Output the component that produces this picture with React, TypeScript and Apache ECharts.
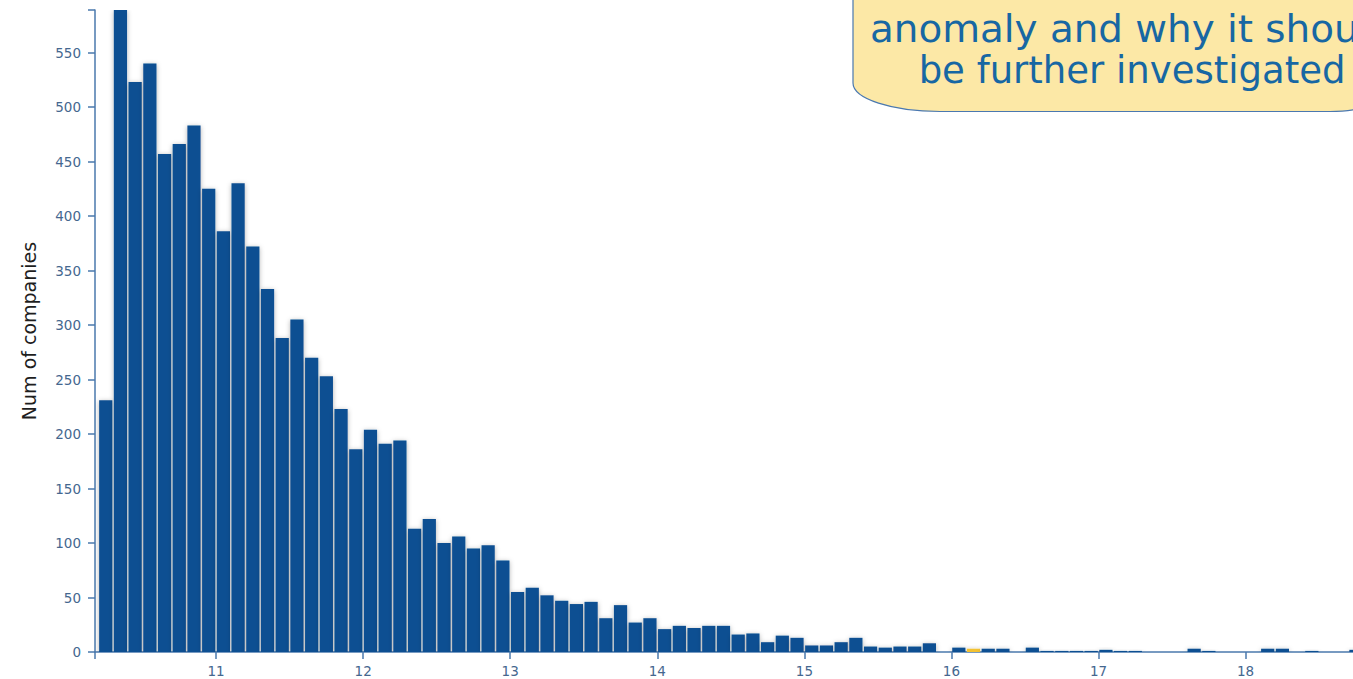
import React, { useEffect, useRef } from "react";
import * as echarts from "echarts";

// Histogram bins: each bin starts at binStarts[i] and is binWidth wide
const binWidth = 0.1;
const binStarts = [
  10.2, 10.3, 10.4, 10.5, 10.6, 10.7, 10.8, 10.9, 11.0, 11.1, 11.2, 11.3, 11.4, 11.5, 11.6, 11.7, 11.8, 11.9,
  12.0, 12.1, 12.2, 12.3, 12.4, 12.5, 12.6, 12.7, 12.8, 12.9, 13.0, 13.1, 13.2, 13.3, 13.4, 13.5, 13.6, 13.7,
  13.8, 13.9, 14.0, 14.1, 14.2, 14.3, 14.4, 14.5, 14.6, 14.7, 14.8, 14.9, 15.0, 15.1, 15.2, 15.3, 15.4, 15.5,
  15.6, 15.7, 15.8, 15.9, 16.0, 16.1, 16.2, 16.3, 16.4, 16.5, 16.6, 16.7, 16.8, 16.9, 17.0, 17.1, 17.2, 17.3,
  17.4, 17.5, 17.6, 17.7, 17.8, 17.9, 18.0, 18.1, 18.2, 18.3, 18.4, 18.5, 18.6, 18.7,
];
const counts = [
  231, 589, 523, 540, 457, 466, 483, 425, 386, 430, 372, 333, 288, 305, 270, 253, 223, 186,
  204, 191, 194, 113, 122, 100, 106, 95, 98, 84, 55, 59, 52, 47, 44, 46, 31, 43,
  27, 31, 21, 24, 22, 24, 24, 16, 17, 9, 15, 13, 6, 6, 9, 13, 5, 4,
  5, 5, 8, 0, 4, 3, 3, 3, 0, 4, 1, 1, 1, 1, 2, 1, 1, 0,
  0, 0, 3, 1, 0, 0, 0, 3, 3, 0, 1, 0, 0, 2,
];
const highlightedBin = 16.1;

const xMin = 10.177;
const xMax = 18.73;
const xTickLabels = [11, 12, 13, 14, 15, 16, 17, 18];
const yMax = 589;
const yTickLabels = [0, 50, 100, 150, 200, 250, 300, 350, 400, 450, 500, 550];

const yAxisTitle = "Num of companies";
const calloutLines = ["anomaly and why it should", "be further investigated"];

const AXIS_COLOR = "#4a78ad";
const LABEL_COLOR = "#45678f";
const BAR_COLOR = "#0d4f92";
const HIGHLIGHT_COLOR = "#f3c232";

const calloutPath =
  "M853,-6 L853,83 A87,28.5 0 0 0 940,111.5 L1330,111.5 A40,9 0 0 0 1370,102 L1370,-6 Z";
echarts.graphic.registerShape("callout", echarts.graphic.extendPath(calloutPath, {}) as any);

export default function App() {
  const ref = useRef<HTMLDivElement>(null);

  useEffect(() => {
    document.body.style.margin = "0";
    document.body.style.overflow = "hidden";
    const chart = echarts.init(ref.current!, undefined, { renderer: "svg" });

    const data = binStarts.map((s, i) => [s, counts[i], Math.abs(s - highlightedBin) < 1e-6 ? 1 : 0]);

    chart.setOption({
      animation: false,
      grid: { left: 95, right: 0, top: 10, bottom: 27, containLabel: false },
      xAxis: {
        type: "value",
        min: xMin,
        max: xMax,
        splitLine: { show: false },
        axisLine: { show: true, lineStyle: { color: AXIS_COLOR, width: 1.5 } },
        axisTick: {
          show: true,
          length: 7,
          customValues: [xMin, ...xTickLabels],
          lineStyle: { color: AXIS_COLOR, width: 1.5 },
        },
        axisLabel: {
          customValues: xTickLabels,
          color: LABEL_COLOR,
          fontSize: 13.5,
          fontFamily: "DejaVu Sans",
          margin: 12,
        },
      },
      yAxis: {
        type: "value",
        min: 0,
        max: yMax,
        splitLine: { show: false },
        axisLine: { show: true, lineStyle: { color: AXIS_COLOR, width: 1.5 } },
        axisTick: {
          show: true,
          length: 7,
          customValues: [...yTickLabels, yMax],
          lineStyle: { color: AXIS_COLOR, width: 1.5 },
        },
        axisLabel: {
          customValues: yTickLabels,
          color: LABEL_COLOR,
          fontSize: 13.5,
          fontFamily: "DejaVu Sans",
          margin: 14,
        },
        name: yAxisTitle,
        nameLocation: "middle",
        nameGap: 57,
        nameTextStyle: { color: "#1e1e1e", fontSize: 19, fontFamily: "DejaVu Sans" },
      },
      series: [
        {
          type: "custom",
          data,
          clip: true,
          renderItem: (params: any, api: any) => {
            const x0 = api.value(0);
            const v = api.value(1);
            const hl = api.value(2);
            if (!v) return null;
            const pTop = api.coord([x0, v]);
            const pBot = api.coord([x0 + binWidth, 0]);
            return {
              type: "rect",
              shape: {
                x: pTop[0] + 0.75,
                y: pTop[1],
                width: pBot[0] - pTop[0] - 1.5,
                height: pBot[1] - pTop[1],
              },
              style: {
                fill: hl ? HIGHLIGHT_COLOR : BAR_COLOR,
                shadowBlur: 5,
                shadowColor: "rgba(0,0,0,0.3)",
                shadowOffsetY: 1,
              },
            };
          },
        },
      ],
      graphic: [
        {
          type: "group",
          children: [
            {
              type: "callout",
              shape: {},
              style: { fill: "#fce8a6", stroke: "#4a78b0", lineWidth: 1.2 },
            },
            {
              type: "text",
              x: 1132,
              y: 29,
              scaleX: 1.05,
              style: {
                text: calloutLines[0],
                fill: "#1767a3",
                fontSize: 37,
                fontFamily: "DejaVu Sans",
                align: "center",
                verticalAlign: "middle",
              },
            },
            {
              type: "text",
              x: 1132,
              y: 70,
              style: {
                text: calloutLines[1],
                fill: "#1767a3",
                fontSize: 37,
                fontFamily: "DejaVu Sans",
                align: "center",
                verticalAlign: "middle",
              },
            },
          ],
        },
      ],
    });

    return () => chart.dispose();
  }, []);

  return <div ref={ref} style={{ width: 1353, height: 679 }} />;
}
